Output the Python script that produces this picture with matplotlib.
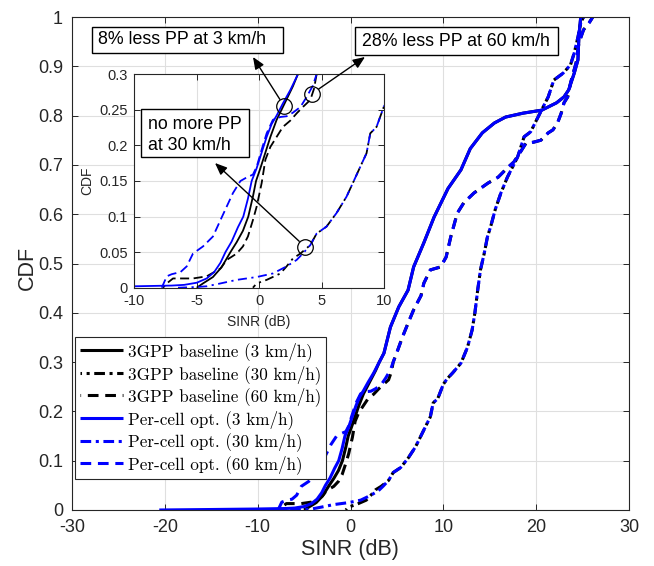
import numpy as np
import matplotlib
matplotlib.use("Agg")
import matplotlib.pyplot as plt
from matplotlib.patches import Rectangle
from matplotlib.ticker import FuncFormatter

# ---------------- data (SINR in dB, CDF) ----------------
# shared upper parts (baseline and per-cell curves overlap there)
up3_x = [3.6, 4.3, 5.2, 6.2, 6.8, 7.9, 9.0, 10.5, 11.9, 12.9, 14.2, 15.5, 16.7, 18.6, 20.6,
         22.2, 23.0, 23.5, 24.1, 24.5, 24.6, 24.8]
up3_y = [0.318, 0.371, 0.412, 0.446, 0.493, 0.542, 0.594, 0.652, 0.69, 0.733, 0.765, 0.785,
         0.797, 0.805, 0.811, 0.826, 0.838, 0.852, 0.886, 0.913, 0.959, 1.0]

up30_x = [4.1, 4.6, 5.4, 6.2, 7.0, 7.5, 8.1, 8.6, 8.9, 9.4, 10.0, 10.4, 11.0, 11.9, 12.6, 13.1,
          13.4, 13.7, 14.0, 14.4, 14.75, 15.1, 15.6, 16.2, 16.9, 18.0, 18.7, 19.4, 20.2, 21.3,
          21.9, 22.9, 23.7, 24.1, 24.5, 24.8, 25.1]
up30_y = [0.06, 0.076, 0.086, 0.105, 0.128, 0.147, 0.17, 0.189, 0.217, 0.226, 0.255, 0.266,
          0.278, 0.298, 0.33, 0.365, 0.40, 0.446, 0.487, 0.52, 0.554, 0.575, 0.61, 0.643,
          0.675, 0.716, 0.757, 0.767, 0.797, 0.838, 0.872, 0.886, 0.903, 0.927, 0.959, 0.988, 1.0]

up60_x = [5.1, 5.6, 6.2, 6.8, 7.6, 7.9, 8.6, 9.7, 10.3, 10.8, 11.5, 12.2, 13.3, 14.8, 15.9,
          16.9, 17.6, 18.3, 18.9, 19.7, 20.5, 21.3, 21.8, 22.3, 22.7, 23.0, 23.4, 23.7, 24.3,
          24.6, 25.1, 25.7, 26.1]
up60_y = [0.325, 0.351, 0.379, 0.406, 0.435, 0.46, 0.487, 0.493, 0.513, 0.554, 0.602, 0.623,
          0.643, 0.663, 0.675, 0.694, 0.706, 0.726, 0.744, 0.746, 0.75, 0.765, 0.771, 0.785,
          0.805, 0.826, 0.838, 0.866, 0.907, 0.947, 0.974, 0.988, 1.0]

# lower parts (differ between schemes)
bl3_x = [-5.0, -4.5, -3.7, -3.0, -2.3, -1.8, -1.3, -0.87, -0.5, -0.25, 0.1, 0.5, 0.9, 1.4,
         1.9, 2.7, 3.1]
bl3_y = [0, 0.006, 0.015, 0.029, 0.05, 0.064, 0.08, 0.1, 0.128, 0.15, 0.168, 0.19, 0.212,
         0.236, 0.254, 0.283, 0.3]
bl30_x = [-0.5, -0.2, 0.6, 1.7, 2.2, 2.7, 3.3, 3.7]
bl30_y = [0, 0.006, 0.011, 0.02, 0.03, 0.041, 0.048, 0.054]
bl60_x = [-7.7, -7.4, -6.9, -5.3, -4.2, -3.1, -2.6, -1.8, -1.3, -0.9, -0.5, -0.2, 0.2, 0.5,
          0.9, 1.4, 1.9, 2.5, 3.0, 3.5, 4.1, 4.4, 4.6]
bl60_y = [0, 0.006, 0.013, 0.013, 0.016, 0.027, 0.039, 0.048, 0.058, 0.072, 0.095, 0.114,
          0.147, 0.18, 0.198, 0.212, 0.226, 0.235, 0.245, 0.254, 0.264, 0.28, 0.3]

pc3_x = [-20.6, -15, -10, -7, -6, -5, -4.2, -3.6, -3.1, -2.7, -2.2, -1.7, -1.27, -0.9, -0.6,
         -0.2, 0.2, 0.6, 1.0, 1.4, 1.9, 2.5, 3.1]
pc3_y = [0, 0.001, 0.002, 0.003, 0.004, 0.007, 0.013, 0.022, 0.035, 0.05, 0.065, 0.085, 0.1,
         0.125, 0.15, 0.168, 0.19, 0.212, 0.23, 0.242, 0.259, 0.278, 0.3]
pc30_x = [-6.5, -5, -4.2, -3.1, -1.8, -0.2, 1.1, 2.2, 3.0, 3.5]
pc30_y = [0, 0.001, 0.002, 0.006, 0.011, 0.015, 0.02, 0.03, 0.039, 0.048]
pc60_x = [-7.8, -7.6, -7.4, -7.0, -6.3, -5.8, -5.3, -4.5, -3.7, -3.1, -2.6, -2.1, -1.5, -1.0,
          -0.5, -0.2, 0.2, 0.6, 1.1, 1.7, 2.2, 2.7, 3.3, 3.8, 4.3, 4.6]
pc60_y = [0, 0.008, 0.016, 0.019, 0.022, 0.03, 0.048, 0.058, 0.072, 0.095, 0.114, 0.133,
          0.15, 0.155, 0.159, 0.17, 0.194, 0.217, 0.236, 0.24, 0.241, 0.246, 0.254, 0.268,
          0.284, 0.3]

labels = ["3GPP baseline (3 km/h)", "3GPP baseline (30 km/h)", "3GPP baseline (60 km/h)",
          "Per-cell opt. (3 km/h)", "Per-cell opt. (30 km/h)", "Per-cell opt. (60 km/h)"]

series = [
    (bl3_x + up3_x, bl3_y + up3_y),
    (bl30_x + up30_x, bl30_y + up30_y),
    (bl60_x + up60_x, bl60_y + up60_y),
    (pc3_x + up3_x, pc3_y + up3_y),
    (pc30_x + up30_x, pc30_y + up30_y),
    (pc60_x + up60_x, pc60_y + up60_y),
]

# ---------------- styling ----------------
BLUE = "#0000ff"
AX_C = "#262626"
GRID_C = "#dfdfdf"
SANS = "Liberation Sans"

main_styles = [
    dict(color="k", ls="-"),
    dict(color="k", ls=(3.0, (3.5, 1.5, 1.0, 1.5))),
    dict(color="k", ls=(3.3, (3.5, 2.2))),
    dict(color=BLUE, ls="-"),
    dict(color=BLUE, ls=(0, (3.5, 1.5, 1.0, 1.5))),
    dict(color=BLUE, ls=(0, (3.5, 2.2))),
]
inset_styles = [
    dict(color="k", ls="-"),
    dict(color="k", ls=(3, (5, 2.5, 1.2, 2.5))),
    dict(color="k", ls=(3.5, (5, 2.5))),
    dict(color=BLUE, ls="-"),
    dict(color=BLUE, ls=(0, (5, 2.5, 1.2, 2.5))),
    dict(color=BLUE, ls=(0, (5, 2.5))),
]

W, H = 654, 566
fig = plt.figure(figsize=(W / 100, H / 100), dpi=100)


def fr(x, y):
    """pixel (top-left origin) -> figure fraction"""
    return (x / W, 1 - y / H)


ax = fig.add_axes([72 / W, 1 - 510 / H, 557 / W, 493 / H])
ax_in = fig.add_axes([134.3 / W, 1 - 287.7 / H, 249.7 / W, 213.4 / H])

fmt = FuncFormatter(lambda v, p: f"{v:g}")

handles = []
for (xs, ys), st, lab in zip(series, main_styles, labels):
    h, = ax.plot(xs, ys, color=st["color"], linestyle=st["ls"], lw=2.2, label=lab,
                 solid_capstyle="butt", dash_capstyle="butt")
    handles.append(h)
for (xs, ys), st in zip(series, inset_styles):
    ax_in.plot(xs, ys, color=st["color"], linestyle=st["ls"], lw=1.3,
               solid_capstyle="butt", dash_capstyle="butt")

for a, (xl, yl, xt, yt, tfs, tpad) in [
        (ax, ((-30, 30), (0, 1), np.arange(-30, 31, 10), np.linspace(0, 1, 11), 13, 6.5)),
        (ax_in, ((-10, 10), (0, 0.3), np.arange(-10, 11, 5), np.linspace(0, 0.3, 7), 10.5, 4.5))]:
    a.set_xlim(*xl)
    a.set_ylim(*yl)
    a.set_xticks(xt)
    a.set_yticks(yt)
    a.xaxis.set_major_formatter(fmt)
    a.yaxis.set_major_formatter(fmt)
    a.grid(True, color=GRID_C, lw=0.8)
    a.set_axisbelow(True)
    a.tick_params(direction="in", top=True, right=True, length=4, width=0.7,
                  colors=AX_C, labelsize=tfs, pad=tpad)
    for lab in a.get_xticklabels() + a.get_yticklabels():
        lab.set_fontfamily(SANS)
    for s in a.spines.values():
        s.set_color(AX_C)
        s.set_linewidth(0.8)
    a.set_facecolor("white")

ax.set_xlabel("SINR (dB)", fontsize=15.5, family=SANS, color=AX_C)
ax.set_ylabel("CDF", fontsize=15.5, family=SANS, color=AX_C)
ax.xaxis.set_label_coords((350 - 72) / 557, (510 - 549) / 493)
ax.yaxis.set_label_coords((27 - 72) / 557, (510 - 268) / 493)
ax.xaxis.label.set_va("center")
ax.yaxis.label.set_va("center")

ax_in.set_xlabel("SINR (dB)", fontsize=10, family=SANS, color=AX_C)
ax_in.set_ylabel("CDF", fontsize=10, family=SANS, color=AX_C)
ax_in.xaxis.set_label_coords((259 - 134.3) / 249.7, (287.7 - 322) / 213.4)
ax_in.yaxis.set_label_coords((87 - 134.3) / 249.7, (287.7 - 181) / 213.4)
ax_in.xaxis.label.set_va("center")
ax_in.yaxis.label.set_va("center")

leg = ax.legend(handles, labels, loc="upper left", bbox_to_anchor=fr(75, 337),
                bbox_transform=fig.transFigure, borderaxespad=0,
                prop={"family": "cmr10", "size": 12.3}, handlelength=2.5,
                handletextpad=0.3, labelspacing=0.22, borderpad=0.3,
                fancybox=False, framealpha=1, edgecolor=AX_C)
leg.get_frame().set_linewidth(0.8)

# ---------------- annotations ----------------
circ_x = [1.99, 4.25, 3.67]
circ_y = [0.2556, 0.273, 0.0577]
ax_in.plot(circ_x, circ_y, "o", ms=11.2, mfc="none", mec="k", mew=0.9,
           clip_on=False, zorder=6)

heads = [fr(253, 57), fr(365, 57), fr(215, 163)]
for cx, cy, hd in zip(circ_x, circ_y, heads):
    ax_in.annotate("", xy=hd, xycoords="figure fraction", xytext=(cx, cy),
                   textcoords="data", annotation_clip=False,
                   arrowprops=dict(arrowstyle="-|>,head_length=0.6,head_width=0.25",
                                   mutation_scale=12, lw=1.0, color="k",
                                   shrinkA=5.6, shrinkB=0), zorder=7)

boxes = [((92, 27, 283, 53), (98, 40), "8% less PP at 3 km/h"),
         ((355, 27, 558, 55), (361.5, 41), "28% less PP at 60 km/h"),
         ((141, 109, 249, 157), (148, 135), "no more PP\nat 30 km/h")]
for (x0, y0, x1, y1), (tx, ty), s in boxes:
    fx0, fy1 = fr(x0, y1)
    fig.add_artist(Rectangle((fx0, fy1), (x1 - x0) / W, (y1 - y0) / H,
                             transform=fig.transFigure, fc="white", ec="k", lw=1.0,
                             zorder=8))
    fig.text(*fr(tx, ty), s, ha="left", va="center", fontsize=12.8, family=SANS,
             color="k", linespacing=1.3, zorder=9)

fig.savefig("out.png", dpi=100)
